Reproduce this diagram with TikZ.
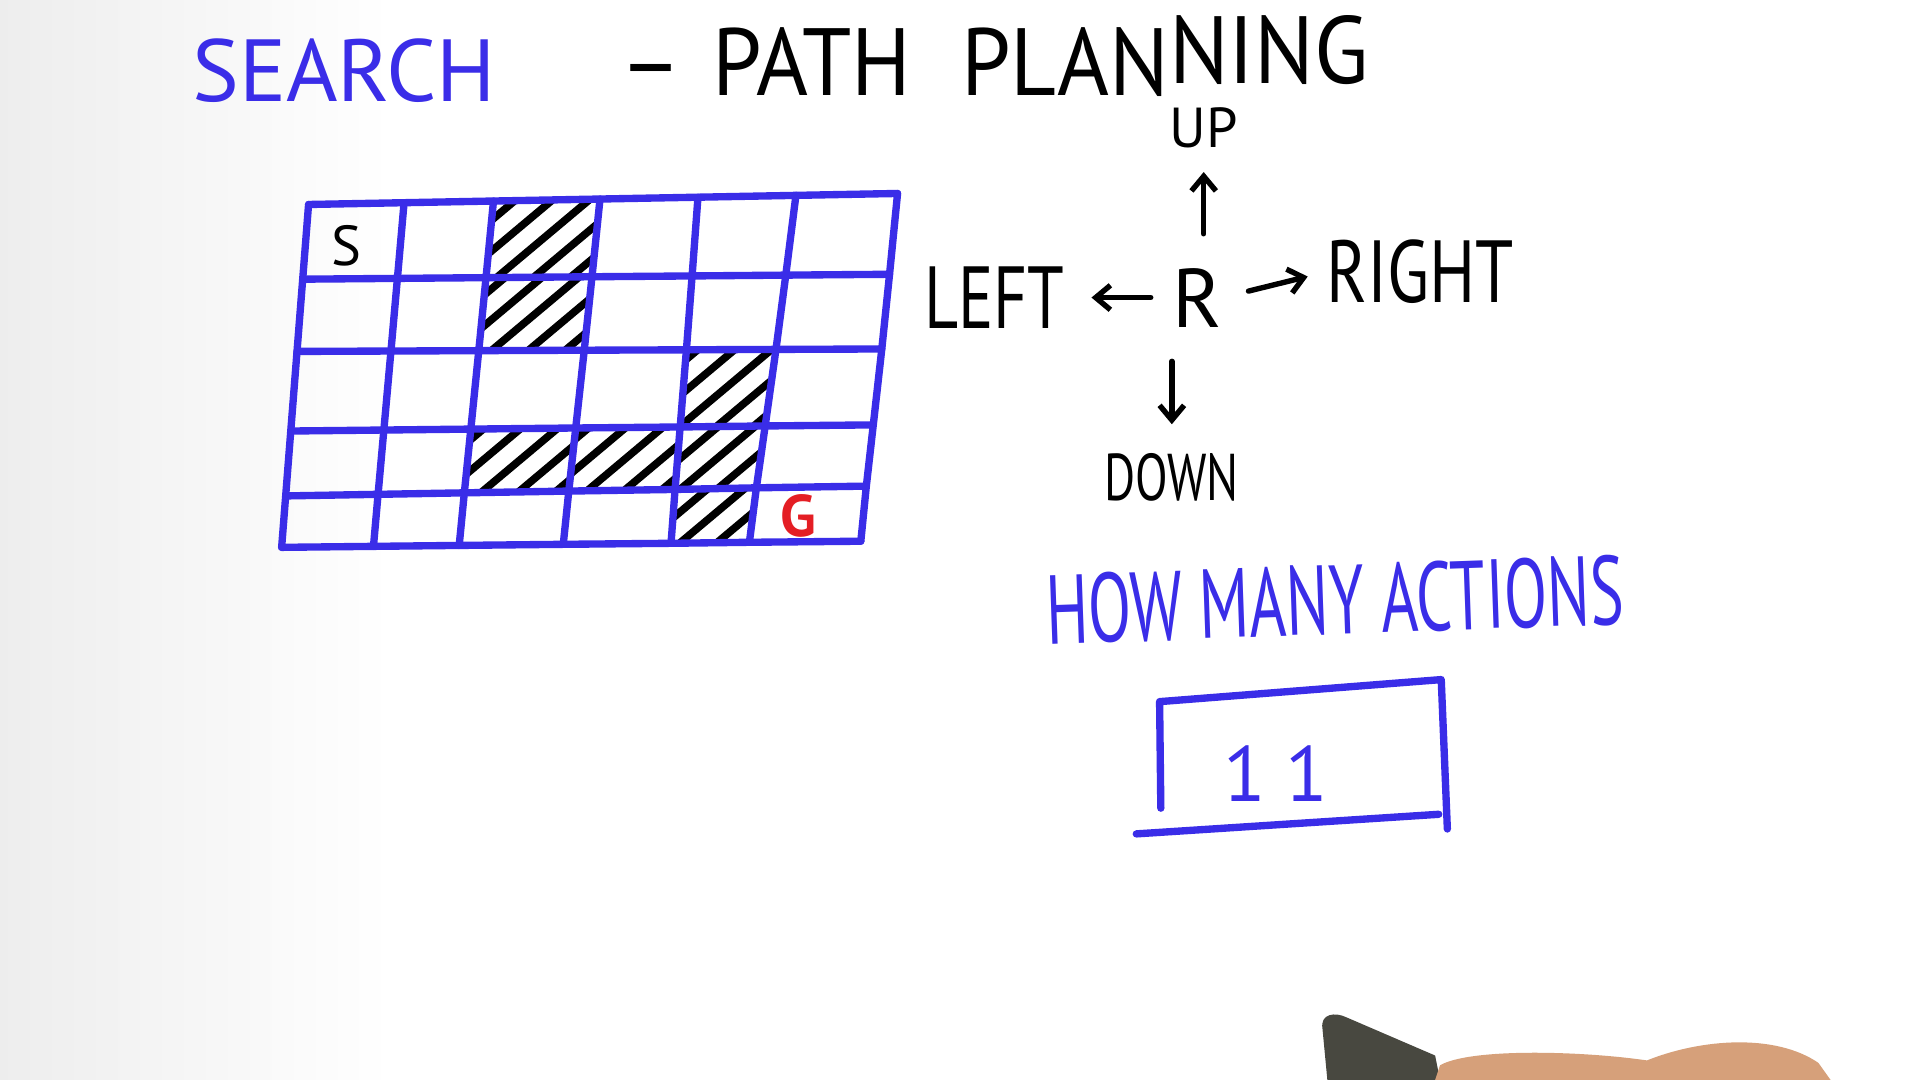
\documentclass[tikz,border=0pt]{standalone}
\usepackage{fontspec}
\setmainfont{PT Sans}
\usepackage{graphicx}
\usetikzlibrary{arrows.meta,calc}
\definecolor{mblue}{RGB}{58,45,232}
\definecolor{mred}{RGB}{228,30,36}
\definecolor{markergray}{RGB}{72,72,64}
\definecolor{skin}{RGB}{214,160,122}
\newcommand\myfs[1]{\fontsize{#1pt}{#1pt}\selectfont}
\newcommand\hatchcell[4]{%
  \begin{scope}
    \clip (#1) -- (#2) -- (#3) -- (#4) -- cycle;
    \coordinate (hc) at ($(#1)!0.5!(#3)$);
    \foreach \k in {-3,...,3}{
      \draw[hatchpen] ($(hc)+(\k*30-62,52)$) -- ++(124,-104);
    }
  \end{scope}}
\tikzset{
  bluepen/.style={draw=mblue, line width=3pt, line cap=round, line join=round},
  hatchpen/.style={draw=black, line width=3.1pt, line cap=round},
  blackpen/.style={draw=black, line width=2.2pt, line cap=round, line join=round},
  arr/.style={blackpen, -{Straight Barb[length=6pt,width=10pt]}},
  txt/.style={inner sep=0pt, outer sep=0pt},
}
\begin{document}
\begin{tikzpicture}[x=0.5pt,y=-0.5pt]
\useasboundingbox (0,0) rectangle (1568,882);
\fill[white] (0,0) rectangle (1568,882);
\shade[left color=black!7, right color=white] (0,0) rectangle (320,882);

% title
\node[txt, anchor=base west, text=mblue, font=\myfs{36}] (search) at (157,83) {SEARCH};
\node[txt, anchor=base west, font=\myfs{39}] (path) at (506,78)
  {--\hspace{12pt}\scalebox{0.93}[1]{PATH\hspace{22pt}PLAN\raisebox{5pt}{NING}}};

% grid corner points
\foreach \i in {0,...,5}{
  \foreach \j in {0,...,6}{
    \pgfmathsetmacro\xa{{252,330,403,490,570,650,733}[\j]}
    \pgfmathsetmacro\xd{{22,25,28,30,22,38,30}[\j]}
    \pgfmathsetmacro\ui{{0,0.218,0.429,0.661,0.85,1}[\i]}
    \pgfmathsetmacro\ya{{167,228,287,352,405,447}[\i]}
    \pgfmathsetmacro\ye{{9,4,2,5,8,5}[\i]}
    \pgfmathsetmacro\vj{{0,0.162,0.314,0.495,0.661,0.827,1}[\j]}
    \pgfmathsetmacro\gx{\xa-\xd*\ui}
    \pgfmathsetmacro\gy{\ya-\ye*\vj}
    \coordinate (p\i\j) at (\gx,\gy);
  }
}

% hatched (blocked) cells
\hatchcell{p02}{p03}{p13}{p12}
\hatchcell{p12}{p13}{p23}{p22}
\hatchcell{p24}{p25}{p35}{p34}
\hatchcell{p32}{p33}{p43}{p42}
\hatchcell{p33}{p34}{p44}{p43}
\hatchcell{p34}{p35}{p45}{p44}
\hatchcell{p44}{p45}{p55}{p54}

% grid lines
\foreach \i in {0,...,5}{
  \draw[bluepen] (p\i0) -- (p\i1) -- (p\i2) -- (p\i3) -- (p\i4) -- (p\i5) -- (p\i6);
}
\foreach \j in {0,...,6}{
  \draw[bluepen] (p0\j) -- (p1\j) -- (p2\j) -- (p3\j) -- (p4\j) -- (p5\j);
}

\node[txt, font=\myfs{23}] (S) at (283,201) {S};
\node[txt, text=mred, font=\bfseries\myfs{24}] (G) at (652,421) {G};

% actions
\node[txt, font=\myfs{34}] (R) at (978,243) {R};
\node[txt, font=\myfs{23}] (UP) at (983,104) {UP};
\node[txt, font=\myfs{36}] (LEFT) at (812,243) {\scalebox{0.75}[1]{LEFT}};
\node[txt, font=\myfs{36}] (RIGHT) at (1160,222) {\scalebox{0.78}[1]{RIGHT}};
\node[txt, font=\myfs{27}] (DOWN) at (957,390) {\scalebox{0.72}[1]{DOWN}};

\draw[arr, shorten <=14pt, shorten >=10pt] (UP.south |- R.north) -- (UP.south);
\draw[arr, shorten <=9pt, shorten >=11pt] (R.west) -- (LEFT.east);
\draw[arr, shorten <=11pt, shorten >=8pt] (R.east) -- (RIGHT.west);
\draw[arr, shorten <=14pt, shorten >=12pt] (DOWN.north |- R.south) -- (DOWN.north);

% question and answer
\node[txt, text=mblue, font=\myfs{40}, rotate=2] (q) at (1090,490) {\scalebox{0.645}[1]{HOW MANY ACTIONS}};
\node[txt, text=mblue, font=\myfs{32}] (ans) at (1042,632) {1\hspace{8pt}1};
\draw[bluepen] (948,660) -- (947,573) -- (1177,555) -- (1182,677);
\draw[bluepen] (928,681) -- (1175,665);

% marker and hand
\fill[markergray] (1080,840) .. controls (1078,828) and (1090,826) .. (1100,831)
  -- (1172,862) -- (1176,882) -- (1084,882) -- cycle;
\fill[skin] (1172,882) -- (1176,870) .. controls (1200,856) and (1290,858) .. (1345,866)
  .. controls (1390,848) and (1450,844) .. (1485,868) -- (1495,882) -- cycle;
\end{tikzpicture}
\end{document}
